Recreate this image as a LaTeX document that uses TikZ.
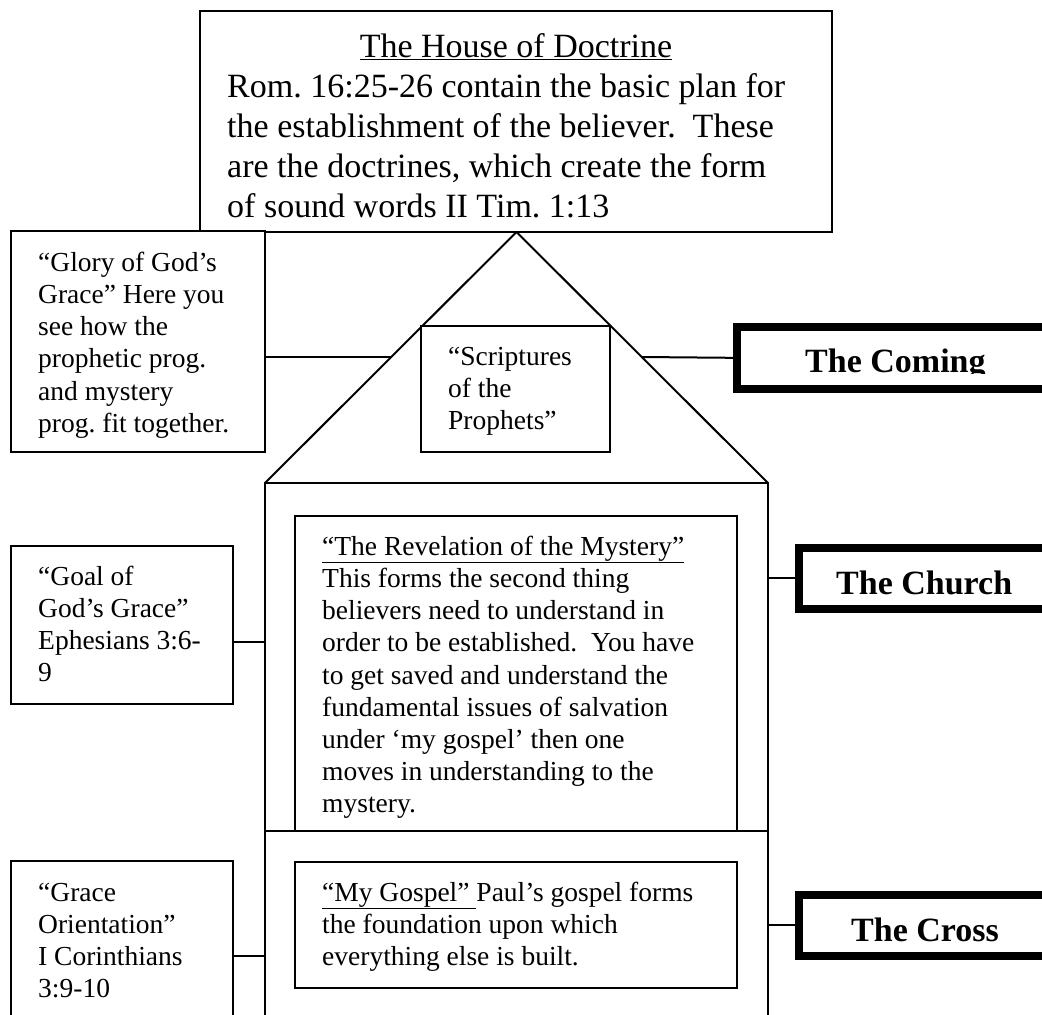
\documentclass[tikz,border=0pt]{standalone}
\usepackage{fontspec}
\setmainfont{Liberation Serif}
\usetikzlibrary{calc}
\begin{document}
\frenchspacing
\begin{tikzpicture}[x=1pt,y=-1pt,
  thinbox/.style={draw, line width=2pt, inner sep=0pt, outer sep=0pt, anchor=north west, rectangle, fill=white},
  thickbox/.style={draw, line width=8pt, inner sep=0pt, outer sep=0pt, anchor=north west, rectangle},
  link/.style={line width=2pt},
  bodytext/.style={anchor=north west, inner sep=0pt, align=left, font=\fontsize{27.5}{32.2}\selectfont\frenchspacing},
  bigtext/.style={anchor=north west, inner sep=0pt, align=left, font=\fontsize{34}{40}\selectfont\frenchspacing},
  labeltext/.style={anchor=base west, inner sep=0pt, font=\fontsize{34}{40}\selectfont\bfseries}]
\useasboundingbox (0,0) rectangle (1042,1015);
\clip (0,0) rectangle (1042,1015);
\fill[white] (0,0) rectangle (1042,1015);

% house body and roof
\node[thinbox, minimum width=503pt, minimum height=600pt] (body) at (265,483) {};
\coordinate (apex) at (516.5,232);
\draw[link, line join=miter] (body.north west) -- (apex) -- (body.north east);
\coordinate (roofL) at ($(apex)!0.498!(body.north west)$);
\coordinate (roofR) at ($(apex)!0.498!(body.north east)$);

% top box
\node[thinbox, minimum width=632pt, minimum height=221pt] (top) at (200,11) {};
\node[bigtext, anchor=base] (title) at (516,57) {\underline{The House of Doctrine}};
\node[bigtext] (toptext) at (227,69) {\strut Rom. 16:25-26 contain the basic plan for\\
the establishment of the believer.\ \ These\\
are the doctrines, which create the form\\
of sound words II Tim. 1:13};

% left boxes
\node[thinbox, minimum width=254pt, minimum height=221pt] (glory) at (11,231) {};
\node[bodytext] (glorytext) at (38,248.5) {\strut “Glory of God’s\\ Grace” Here you\\ see how the\\ prophetic prog.\\ and mystery\\ prog. fit together.};

\node[thinbox, minimum width=222pt, minimum height=158pt] (goal) at (11,546) {};
\node[bodytext] (goaltext) at (38,562.5) {\strut “Goal of\\ God’s Grace”\\ Ephesians 3:6-\\ 9};

\node[thinbox, minimum width=222pt, minimum height=200pt] (grace) at (11,861) {};
\node[bodytext] (gracetext) at (38,878.5) {\strut “Grace\\ Orientation”\\ I Corinthians\\ 3:9-10};

% inner boxes
\node[thinbox, minimum width=189pt, minimum height=126pt] (scrip) at (421,326) {};
\node[bodytext] (scriptext) at (448,342.5) {\strut “Scriptures\\ of the\\ Prophets”};

\node[thinbox, minimum width=442pt, minimum height=315.5pt] (rev) at (295,515.5) {};
\node[bodytext] (revtext) at (322,532.5) {\strut \underline{“The Revelation of the Mystery”}\\ This forms the second thing\\ believers need to understand in\\ order to be established.\ \ You have\\ to get saved and understand the\\ fundamental issues of salvation\\ under ‘my gospel’ then one\\ moves in understanding to the\\ mystery.};
\draw[link] (body.west |- 0,831) -- (body.east |- 0,831);

\node[thinbox, minimum width=442pt, minimum height=126pt] (gospel) at (295,862) {};
\node[bodytext] (gospeltext) at (322,878.5) {\strut \underline{“My Gospel” }Paul’s gospel forms\\ the foundation upon which\\ everything else is built.};

% right boxes
\node[thickbox, minimum width=330pt, minimum height=62.3pt] (coming) at (737,326.7) {};
\node[thickbox, minimum width=300pt, minimum height=61.5pt] (church) at (799,547.5) {};
\node[thickbox, minimum width=300pt, minimum height=61.8pt] (cross) at (799,894.5) {};
\begin{scope}
  \clip (700,300) rectangle (1042,373.5);
  \node[labeltext] (comingtext) at (805,372.5) {The Coming};
\end{scope}
\begin{scope}
  \clip (700,540) rectangle (1042,595);
  \node[labeltext] (churchtext) at (836,594.5) {The Church};
\end{scope}
\begin{scope}
  \clip (700,880) rectangle (1042,942);
  \node[labeltext] (crosstext) at (851,941.5) {The Cross};
\end{scope}

% connectors
\draw[link] (glory.east |- roofL) -- (roofL);
\draw[link] (roofR) -- (coming.west);
\draw[link] (goal.east |- 0,642) -- (body.west |- 0,642);
\draw[link] (grace.east |- 0,956) -- (body.west |- 0,956);
\draw[link] (body.east |- church.west) -- (church.west);
\draw[link] (body.east |- cross.west) -- (cross.west);
\end{tikzpicture}
\end{document}
